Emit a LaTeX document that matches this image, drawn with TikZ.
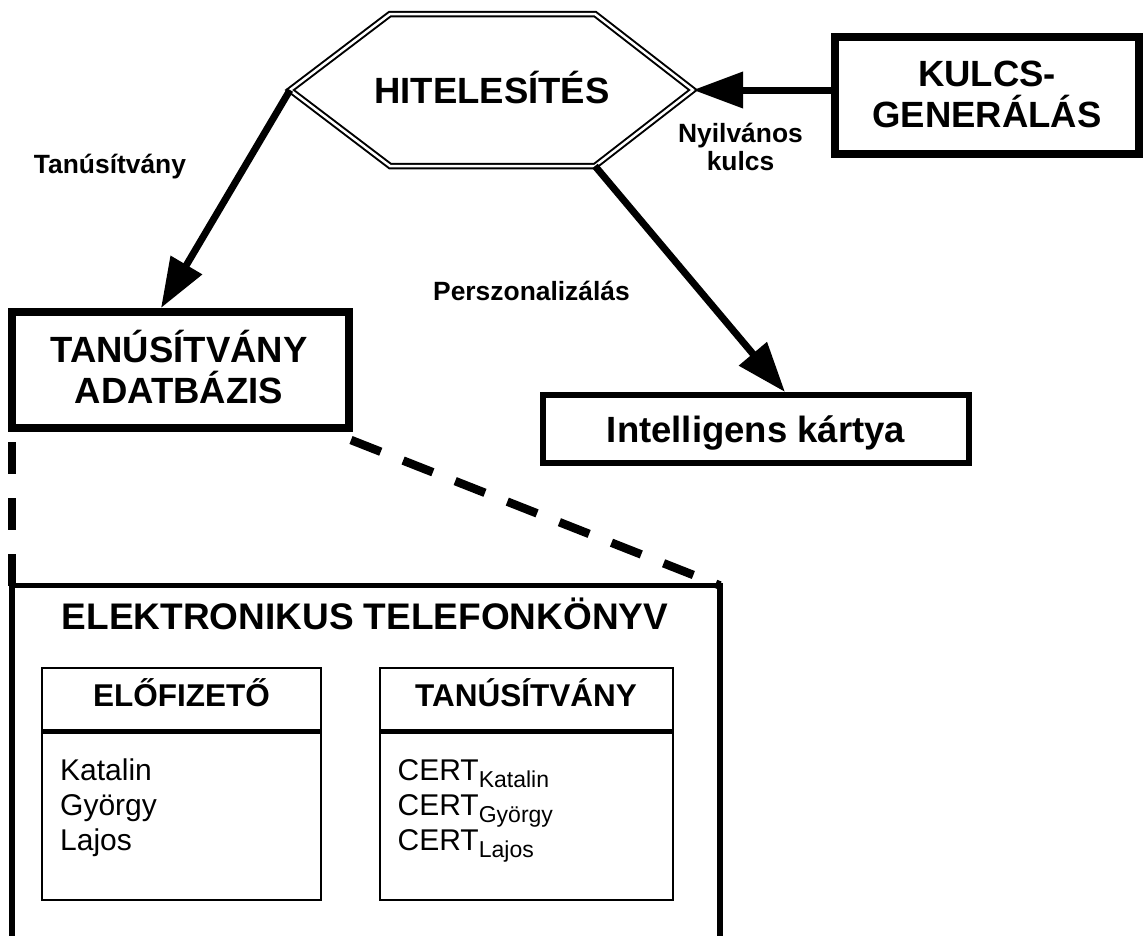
\documentclass[tikz,border=0pt]{standalone}
\usepackage{fontspec}
\setmainfont{Liberation Sans}
\usetikzlibrary{arrows.meta}
\newcommand\certsub[1]{\raisebox{-7pt}{\fontsize{23}{26}\selectfont #1}}
\begin{document}
\begin{tikzpicture}[x=1pt,y=-1pt,
  big/.style={font=\fontsize{36.5}{41}\selectfont\bfseries, inner sep=0pt},
  lab/.style={font=\fontsize{26.4}{30}\selectfont\bfseries, inner sep=0pt, anchor=base},
  hdr/.style={font=\fontsize{31.5}{36}\selectfont\bfseries, inner sep=0pt, anchor=base},
  txt/.style={font=\fontsize{30}{35}\selectfont, inner sep=0pt, anchor=base west},
  heavybox/.style={draw, line width=8pt, inner sep=0pt},
  midbox/.style={draw, line width=6pt, inner sep=0pt},
  thinbox/.style={draw, line width=2pt, inner sep=0pt, outer sep=0pt},
  arr/.style={line width=7pt, -{Triangle[length=50pt,width=35pt]}},
  dashlink/.style={line width=8.5pt, dash pattern=on 32pt off 24pt},
  hexline/.style={line width=2pt, double, double distance=2.5pt, line join=miter}
]
\useasboundingbox (0,0) rectangle (1143,935);

% hexagon HITELESITES
\coordinate (hL) at (290,90);
\coordinate (hTL) at (390,14);
\coordinate (hTR) at (595,14);
\coordinate (hR) at (693,90);
\coordinate (hBR) at (595,166);
\coordinate (hBL) at (390,166);
\draw[hexline] (hL) -- (hTL) -- (hTR) -- (hR) -- (hBR) -- (hBL) -- cycle;
\node[big, text height=26pt, text depth=0pt] (hit) at (492,90) {HITELESÍTÉS};

% KULCS-GENERALAS box
\node[heavybox, minimum width=304pt, minimum height=117pt] (kbox) at (987,95.5) {};
\node[big, anchor=base] (kul1) at (987,86) {KULCS-};
\node[big, anchor=base] (kul2) at (987,127) {GENERÁLÁS};

% TANUSITVANY ADATBAZIS box
\node[heavybox, minimum width=337pt, minimum height=116pt] (tanbox) at (180.5,370) {};
\node[big, anchor=base] (tan1) at (179,362) {TANÚSÍTVÁNY};
\node[big, anchor=base] (tan2) at (179,403) {ADATBÁZIS};

% Intelligens kartya box
\node[midbox, big, minimum width=426pt, minimum height=68pt, text height=26pt, text depth=0pt] (intbox) at (756,429) {Intelligens kártya};

% arrows
\draw[arr] (kbox.west |- hR) -- (hR);
\draw[arr] (hL) -- ([xshift=-19.5pt]tanbox.north);
\draw[arr] (hBR) -- ([xshift=29pt]intbox.north);

% arrow labels
\node[lab] (ltan) at (110,173) {Tanúsítvány};
\node[lab] (lper) at (531.5,300) {Perszonalizálás};
\node[lab] (lny1) at (740.5,142) {Nyilvános};
\node[lab] (lny2) at (740.5,170) {kulcs};

% electronic phone book frame
\node[minimum width=708pt, minimum height=352pt, inner sep=0pt, outer sep=0pt, anchor=north] (ebook) at (366,585.5) {};
\draw[line width=5.5pt] (ebook.south west) -- (ebook.north west) -- (ebook.north east) -- (ebook.south east);
\node[font=\fontsize{37}{42}\selectfont\bfseries, anchor=base, inner sep=0pt] (etitle) at (365,629) {ELEKTRONIKUS TELEFONKÖNYV};

% dashed zoom lines
\coordinate (vstart) at (12,442);
\coordinate (dstart) at (351,440);
\draw[dashlink] (vstart) -- (ebook.north west);
\draw[dashlink] (dstart) -- (ebook.north east);

% subscriber table
\node[thinbox, minimum width=279pt, minimum height=232.5pt] (sub1) at (181.5,783.75) {};
\draw[line width=5pt] ([yshift=-63.5pt]sub1.north west) -- ([yshift=-63.5pt]sub1.north east);
\node[hdr] (h1) at (181.5,706) {ELŐFIZETŐ};
\node[txt] (n1) at (60,780) {Katalin};
\node[txt] (n2) at (60,815) {György};
\node[txt] (n3) at (60,850) {Lajos};

% certificate table
\node[thinbox, minimum width=293pt, minimum height=232.5pt] (sub2) at (526.5,783.75) {};
\draw[line width=5pt] ([yshift=-63.5pt]sub2.north west) -- ([yshift=-63.5pt]sub2.north east);
\node[hdr] (h2) at (526,706) {TANÚSÍTVÁNY};
\node[txt] (c1) at (397.5,780) {CERT\certsub{Katalin}};
\node[txt] (c2) at (397.5,815) {CERT\certsub{György}};
\node[txt] (c3) at (397.5,850) {CERT\certsub{Lajos}};
\end{tikzpicture}
\end{document}
